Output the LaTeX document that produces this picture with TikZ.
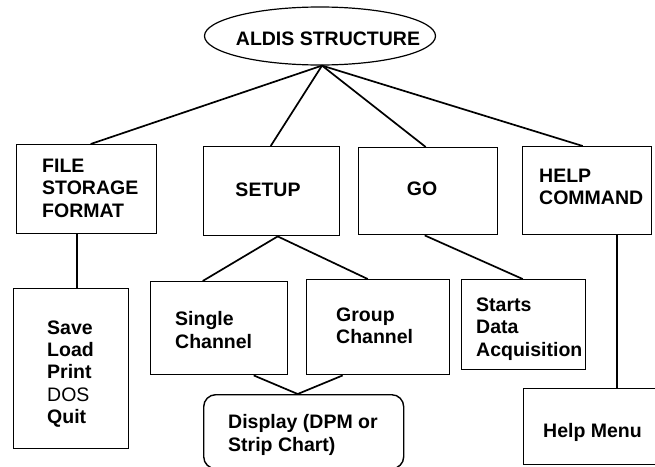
\documentclass[tikz,border=0pt]{standalone}
\usepackage{fontspec}
\setmainfont{Liberation Sans}
\usetikzlibrary{shapes.geometric}
\tikzset{
  box/.style={draw, line width=1.4pt, rectangle, inner sep=0pt, anchor=north west},
  lbl/.style={inner sep=0pt, anchor=west, align=left, font=\fontsize{19.5}{22.5}\selectfont\bfseries},
  ctr/.style={inner sep=0pt, font=\fontsize{19.5}{22.5}\selectfont\bfseries},
  link/.style={line width=1.7pt}
}
\begin{document}
\begin{tikzpicture}[x=1pt,y=-1pt]
\useasboundingbox (0,0) rectangle (655,466);
\clip (0,0) rectangle (655,466);
\fill[white] (0,0) rectangle (655,466);

% root
\node[draw, ellipse, line width=1.2pt, minimum width=231pt, minimum height=58pt, inner sep=0pt] (root) at (320,36) {};
\node[ctr] (roottext) at (328,39) {ALDIS STRUCTURE};

% first row
\node[box, minimum width=140pt, minimum height=89pt] (file) at (16,144) {};
\node[box, minimum width=136pt, minimum height=89pt] (setup) at (203,146) {};
\node[box, minimum width=139pt, minimum height=87pt] (go) at (358,147) {};
\node[box, minimum width=129pt, minimum height=88pt] (help) at (522,146) {};

\node[lbl] (filetext) at (42,188) {FILE\\STORAGE\\FORMAT};
\node[ctr] (setuptext) at (268,190) {SETUP};
\node[ctr] (gotext) at (422,189) {GO};
\node[lbl] (helptext) at (539,187) {HELP\\COMMAND};

% second row
\node[box, minimum width=115pt, minimum height=160pt] (save) at (13,288) {};
\node[box, minimum width=137pt, minimum height=93pt] (single) at (150,281) {};
\node[box, minimum width=143pt, minimum height=95pt] (group) at (306,279) {};
\node[box, minimum width=124pt, minimum height=90pt] (starts) at (461,279) {};

\node[lbl, font=\fontsize{19.5}{22.2}\selectfont] (savetext) at (47,374) {\textbf{Save}\\\textbf{Load}\\\textbf{Print}\\DOS\\\textbf{Quit}};
\node[lbl] (singletext) at (175,330) {Single\\Channel};
\node[lbl] (grouptext) at (336,326) {Group\\Channel};
\node[lbl] (startstext) at (476,329) {Starts\\Data\\Acquisition};

% third row
\node[box, rounded corners=12pt, minimum width=200pt, minimum height=74pt] (display) at (203,394) {};
\node[box, minimum width=137pt, minimum height=76pt] (helpmenu) at (523,388) {};

\node[lbl] (displaytext) at (228,435) {Display (DPM or\\Strip Chart)};
\node[lbl] (helpmenutext) at (543,432) {Help Menu};

% connectors
\draw[link] ([xshift=2pt]root.south) -- ([xshift=4pt]file.north);
\draw[link] ([xshift=2pt]root.south) -- ([xshift=-1pt]setup.north);
\draw[link] ([xshift=2pt]root.south) -- ([xshift=-2.5pt]go.north);
\draw[link] ([xshift=2pt]root.south) -- ([xshift=-4.5pt]help.north);

\draw[link] ([xshift=-10pt]file.south) -- ([xshift=5.5pt]save.north);
\draw[link] ([xshift=6pt]setup.south) -- ([xshift=-16.5pt]single.north);
\draw[link] ([xshift=6pt]setup.south) -- ([xshift=-10.5pt]group.north);
\draw[link] ([xshift=-3.5pt]go.south) -- ([xshift=-1pt]starts.north);
\draw[link] ([xshift=29.5pt]help.south) -- ([xshift=24.5pt]helpmenu.north);

\draw[link] ([xshift=34.5pt]single.south) -- ([xshift=-6pt]display.north);
\draw[link] ([xshift=-35.5pt]group.south) -- ([xshift=-6pt]display.north);
\end{tikzpicture}
\end{document}
